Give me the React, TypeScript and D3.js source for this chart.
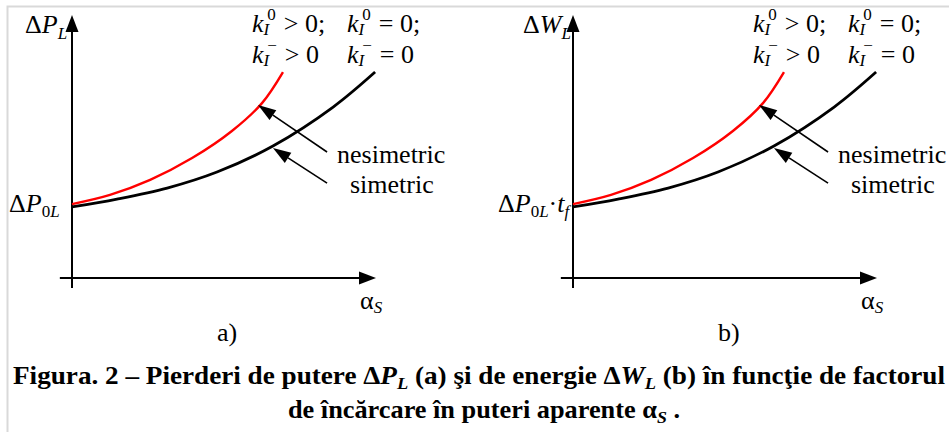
import React from 'react';
import * as d3 from 'd3';

const W = 949;
const H = 432;
const FONT = "'Liberation Serif', 'Times New Roman', serif";

// curve samples in axis units (0..10 along each axis)
const redX = [0, 1.25, 2.57, 3.95, 5.26, 6.25, 6.94];
const redY = [2.81, 3.16, 3.73, 4.56, 5.59, 6.65, 7.83];
const blackX = [0, 1.48, 3.13, 4.77, 6.61, 8.59, 9.97];
const blackY = [2.7, 3.0, 3.42, 4.03, 5.02, 6.5, 7.83];

// annotation arrows: [fromX, fromY, toX, toY] in axis units
const arrowNes = [8.39, 4.79, 6.12, 6.58];
const arrowSim = [8.39, 3.61, 6.61, 4.94];

const panelShift = [0, 501];
const panelTags = ['a)', 'b)'];
const kSup = ['0', '\u2212'];
const kOps = [['> 0;', '= 0;'], ['> 0', '= 0']];
const curveNames = ['nesimetric', 'simetric'];

const arrowHead = (x1: number, y1: number, x2: number, y2: number, len: number, hw: number) => {
  const a = Math.atan2(y2 - y1, x2 - x1);
  const bx = x2 - len * Math.cos(a);
  const by = y2 - len * Math.sin(a);
  const nx = -Math.sin(a) * hw;
  const ny = Math.cos(a) * hw;
  return {
    base: [bx, by],
    pts: `${x2},${y2} ${bx + nx},${by + ny} ${bx - nx},${by - ny}`,
  };
};

const Panel: React.FC<{ idx: number }> = ({ idx }) => {
  const dx = panelShift[idx];
  const x = d3.scaleLinear().domain([0, 10]).range([72 + dx, 376 + dx]);
  const y = d3.scaleLinear().domain([0, 10]).range([278, 15]);
  const line = d3.line<[number, number]>()
    .x((d) => x(d[0]))
    .y((d) => y(d[1]))
    .curve(d3.curveCatmullRom.alpha(0.5));
  const path = (xs: number[], ys: number[]) => line(d3.zip(xs, ys) as [number, number][]) || '';

  const yHead = arrowHead(x(0), y(-0.38), x(0), y(10), 17, 6.5);
  const xHead = arrowHead(x(-0.4), y(0), x(10), y(0), 17, 6.5);

  const annot = (a: number[]) => {
    const h = arrowHead(x(a[0]), y(a[1]), x(a[2]), y(a[3]), 18, 6);
    return (
      <g>
        <line x1={x(a[0])} y1={y(a[1])} x2={h.base[0]} y2={h.base[1]} stroke="#000" strokeWidth={1.6} />
        <polygon points={h.pts} fill="#000" />
      </g>
    );
  };

  const kLabel = (row: number, col: number) => (
    <text key={`${row}-${col}`} x={dx + [252, 347][col]} y={[32, 63][row]} fontSize={26}>
      <tspan fontStyle="italic">k</tspan>
      <tspan fontStyle="italic" fontSize={17} dy={3}>I</tspan>
      <tspan fontSize={17} dx={-2} dy={-15}>{kSup[row]}</tspan>
      <tspan dx={8} dy={12}>{kOps[row][col]}</tspan>
    </text>
  );

  return (
    <g fontFamily={FONT} fill="#000">
      {/* axes */}
      <line x1={x(0)} y1={y(-0.38)} x2={x(0)} y2={yHead.base[1]} stroke="#000" strokeWidth={2} />
      <polygon points={yHead.pts} />
      <line x1={x(-0.4)} y1={y(0)} x2={xHead.base[0]} y2={y(0)} stroke="#000" strokeWidth={2} />
      <polygon points={xHead.pts} />

      {/* curves */}
      <path d={path(blackX, blackY)} fill="none" stroke="#000" strokeWidth={2.8} />
      <path d={path(redX, redY)} fill="none" stroke="#ff0000" strokeWidth={2.4} />

      {annot(arrowNes)}
      {annot(arrowSim)}

      <text x={dx + 337} y={163} fontSize={26}>{curveNames[0]}</text>
      <text x={dx + 350} y={193} fontSize={26}>{curveNames[1]}</text>

      {kLabel(0, 0)}
      {kLabel(0, 1)}
      {kLabel(1, 0)}
      {kLabel(1, 1)}

      {idx === 0 ? (
        <>
          <text x={25} y={33} fontSize={26}>
            {'\u0394'}
            <tspan fontStyle="italic">P</tspan>
            <tspan fontStyle="italic" fontSize={17} dy={6}>L</tspan>
          </text>
          <text x={9} y={212} fontSize={26}>
            {'\u0394'}
            <tspan fontStyle="italic">P</tspan>
            <tspan fontSize={17} dy={5}>0</tspan>
            <tspan fontStyle="italic" fontSize={17}>L</tspan>
          </text>
        </>
      ) : (
        <>
          <text x={dx + 22} y={33} fontSize={26}>
            {'\u0394'}
            <tspan fontStyle="italic">W</tspan>
            <tspan fontStyle="italic" fontSize={17} dy={6}>L</tspan>
          </text>
          <text x={dx - 3} y={212} fontSize={26}>
            {'\u0394'}
            <tspan fontStyle="italic">P</tspan>
            <tspan fontSize={17} dy={5}>0</tspan>
            <tspan fontStyle="italic" fontSize={17}>L</tspan>
            <tspan dy={-5}>{'\u00b7'}</tspan>
            <tspan fontStyle="italic">t</tspan>
            <tspan fontStyle="italic" fontSize={17} dy={5}>f</tspan>
          </text>
        </>
      )}

      <text x={dx + 360} y={309} fontSize={26}>
        {'\u03b1'}
        <tspan fontStyle="italic" fontSize={17} dy={4}>S</tspan>
      </text>
      <text x={dx + 217} y={341} fontSize={26}>{panelTags[idx]}</text>
    </g>
  );
};

export default function App() {
  return (
    <svg
      width={W}
      height={H}
      viewBox={`0 0 ${W} ${H}`}
      style={{ position: 'absolute', left: 0, top: 0, background: '#fff' }}
    >
      <rect width={W} height={H} fill="#fff" />
      <path d={`M7.5,${H} V6.5 H${W}`} fill="none" stroke="#d9d9d9" strokeWidth={2} />
      <Panel idx={0} />
      <Panel idx={1} />

      <g fontFamily={FONT} fontWeight="bold" fontSize={25} textAnchor="middle">
        <text x={479} y={384} textLength={932} lengthAdjust="spacingAndGlyphs">
          {'Figura. 2 \u2013 Pierderi de putere \u0394'}
          <tspan fontStyle="italic">P</tspan>
          <tspan fontStyle="italic" fontSize={17} dy={5}>L</tspan>
          <tspan dy={-5}>{' (a) \u015fi de energie \u0394'}</tspan>
          <tspan fontStyle="italic">W</tspan>
          <tspan fontStyle="italic" fontSize={17} dy={5}>L</tspan>
          <tspan dy={-5}>{' (b) \u00een func\u0163ie de factorul'}</tspan>
        </text>
        <text x={484} y={418} textLength={392} lengthAdjust="spacingAndGlyphs">
          {'de \u00eenc\u0103rcare \u00een puteri aparente \u03b1'}
          <tspan fontStyle="italic" fontSize={17} dy={5}>S</tspan>
          <tspan dy={-5}>{' .'}</tspan>
        </text>
      </g>
    </svg>
  );
}
